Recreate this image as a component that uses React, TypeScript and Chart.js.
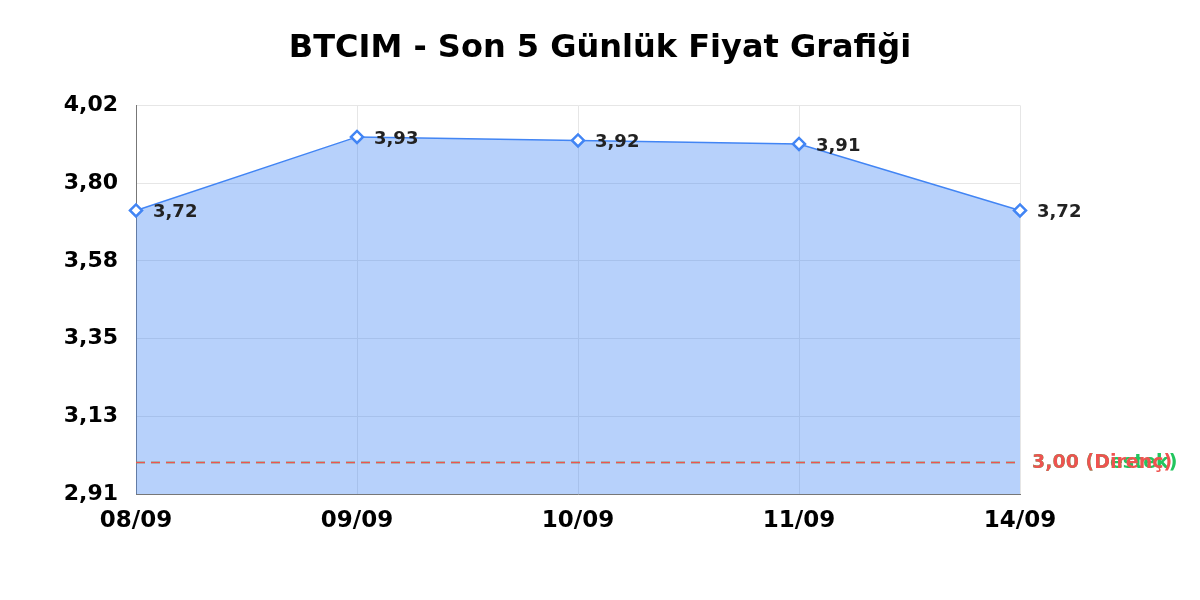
import { Chart, registerables } from "chart.js";
import { useEffect, useRef } from "react";

Chart.register(...registerables);

const dates = ["08/09", "09/09", "10/09", "11/09", "14/09"];
const prices = [3.72, 3.93, 3.92, 3.91, 3.72];
const yMin = 2.91;
const yMax = 4.02;
const levelValues = [3.0, 3.0];
const levelNames = ["Destek", "Direnç"];
const levelColors = ["#22c55e", "#ef5350"];

const FONT = '"DejaVu Sans", Verdana';
const fmt = (v: number) => v.toFixed(2).replace(".", ",");

const labelsPlugin = {
  id: "pointLabels",
  afterDatasetsDraw(chart: any) {
    const { ctx, chartArea, scales } = chart;
    ctx.save();

    // destek / direnç çizgileri
    levelValues.forEach((val, i) => {
      const y = scales.y.getPixelForValue(val);
      ctx.strokeStyle = levelColors[i];
      ctx.lineWidth = 1.5;
      ctx.setLineDash([9, 6]);
      ctx.beginPath();
      ctx.moveTo(chartArea.left, y);
      ctx.lineTo(chartArea.right, y);
      ctx.stroke();
      ctx.setLineDash([]);
      ctx.fillStyle = levelColors[i];
      ctx.font = `bold 19px ${FONT}`;
      ctx.textAlign = "left";
      ctx.textBaseline = "middle";
      ctx.fillText(`${fmt(val)} (${levelNames[i]})`, chartArea.right + 12, y + 1);
    });

    const meta = chart.getDatasetMeta(0);
    ctx.fillStyle = "#222";
    ctx.font = `bold 18px ${FONT}`;
    ctx.textAlign = "left";
    ctx.textBaseline = "middle";
    meta.data.forEach((pt: any, i: number) => {
      ctx.fillText(fmt(prices[i]), pt.x + 17, pt.y + 2);
    });
    ctx.restore();
  },
};

export default function App() {
  const canvasRef = useRef<HTMLCanvasElement | null>(null);
  const chartRef = useRef<Chart | null>(null);

  useEffect(() => {
    const canvas = canvasRef.current;
    if (!canvas) return;

    chartRef.current?.destroy();
    chartRef.current = new Chart(canvas, {
      type: "line",
      data: {
        labels: dates,
        datasets: [
          {
            label: "Fiyat",
            data: prices,
            borderColor: "#4285f4",
            backgroundColor: "rgba(66, 133, 244, 0.38)",
            borderWidth: 1.5,
            fill: "start",
            tension: 0,
            pointStyle: "rectRot",
            pointRadius: 6,
            pointBorderWidth: 2.5,
            pointBackgroundColor: "#ffffff",
            pointBorderColor: "#4285f4",
          },
        ],
      },
      options: {
        responsive: true,
        maintainAspectRatio: false,
        animation: false,
        layout: { padding: { left: 0, right: 0, top: 0, bottom: 46 } },
        plugins: {
          legend: { display: false },
          tooltip: { enabled: false },
          title: {
            display: true,
            text: "BTCIM - Son 5 Günlük Fiyat Grafiği",
            color: "#000",
            font: { family: FONT, size: 32, weight: "bold" },
            padding: { top: 29, bottom: 38 },
          },
        },
        scales: {
          x: {
            offset: false,
            grid: { display: true, color: "#e6e6e6", drawTicks: false },
            border: { display: true, color: "#777" },
            ticks: {
              color: "#000",
              padding: 13,
              maxRotation: 0,
              font: { family: FONT, size: 23, weight: "bold" },
            },
            afterFit(scale: any) {
              scale.height = 60;
            },
          },
          y: {
            min: yMin,
            max: yMax,
            grid: { color: "#e6e6e6", drawTicks: false },
            border: { display: true, color: "#777" },
            afterBuildTicks(scale: any) {
              scale.ticks = Array.from({ length: 6 }, (_, i) => ({
                value: yMin + (i * (yMax - yMin)) / 5,
              }));
            },
            ticks: {
              color: "#000",
              padding: 18,
              font: { family: FONT, size: 22, weight: "bold" },
              callback: (v: any) => fmt(Number(v)),
            },
            afterFit(scale: any) {
              scale.width = 136;
            },
          },
          // sağdaki boşluk (etiketler için)
          yRight: {
            position: "right",
            display: true,
            grid: { display: false },
            border: { display: false },
            ticks: { display: false },
            afterFit(scale: any) {
              scale.width = 180;
            },
          },
        },
      },
      plugins: [labelsPlugin],
    });

    return () => {
      chartRef.current?.destroy();
      chartRef.current = null;
    };
  }, []);

  return (
    <div
      style={{
        position: "fixed",
        left: 0,
        top: 0,
        width: 1200,
        height: 600,
        background: "#fff",
      }}
    >
      <canvas ref={canvasRef} />
    </div>
  );
}
